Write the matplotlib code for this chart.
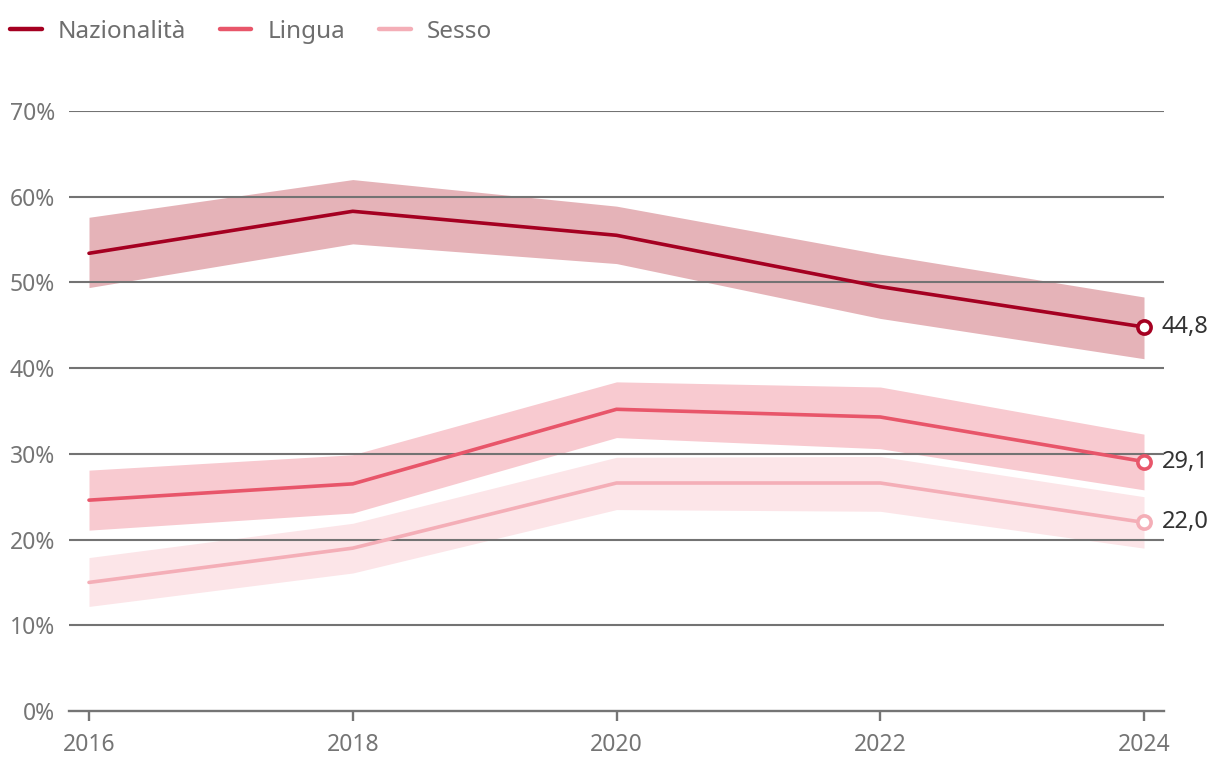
import numpy as np
import matplotlib.pyplot as plt

plt.rcParams['font.family'] = ['Noto Sans', 'DejaVu Sans']

## Data ##
years = [2016, 2018, 2020, 2022, 2024]

naz = [53.4, 58.3, 55.5, 49.5, 44.8]
naz_lo = [49.4, 54.5, 52.2, 45.8, 41.1]
naz_hi = [57.6, 62.0, 58.9, 53.3, 48.3]

lin = [24.6, 26.5, 35.2, 34.3, 29.1]
lin_lo = [21.1, 23.1, 31.9, 30.6, 25.8]
lin_hi = [28.1, 29.9, 38.4, 37.8, 32.3]

ses = [15.0, 19.0, 26.6, 26.6, 22.0]
ses_lo = [12.2, 16.1, 23.5, 23.3, 19.0]
ses_hi = [17.9, 21.9, 29.6, 29.7, 25.0]

names = ['Nazionalità', 'Lingua', 'Sesso']
end_labels = ['44,8', '29,1', '22,0']
yticks = [0, 10, 20, 30, 40, 50, 60, 70]

line_cols = ['#a50021', '#e8566a', '#f4aeb7']
band_cols = ['#e5b3b8', '#f8cad0', '#fce5e8']

fig = plt.figure(figsize=(12.2, 7.78), dpi=100)
ax = fig.add_axes([69/1220, 1-711/778, (1164-69)/1220, 600/778])

series = [(naz, naz_lo, naz_hi), (lin, lin_lo, lin_hi), (ses, ses_lo, ses_hi)]
for i, (v, lo, hi) in enumerate(series):
    ax.fill_between(years, lo, hi, color=band_cols[i], lw=0, zorder=1)
for i, (v, lo, hi) in enumerate(series):
    ax.plot(years, v, color=line_cols[i], lw=2.6, label=names[i], zorder=4,
            solid_capstyle='round')
    ax.plot(years[-1], v[-1], 'o', ms=9.5, mfc='white', mec=line_cols[i], mew=2.6,
            zorder=5)
    ax.text(years[-1] + 0.135, v[-1], end_labels[i], color='#333333', fontsize=17,
            va='center', ha='left', clip_on=False)

ax.set_xlim(2016 - 20/131.875, 2024 + 20/131.875)
ax.set_ylim(0, 70)
ax.set_yticks(yticks)
ax.set_yticklabels([f'{t}%' for t in yticks])
ax.set_xticks(years)
ax.set_xticklabels([str(y) for y in years])

for t in yticks[1:]:
    ax.axhline(t, color='#737373', lw=1.5, zorder=3)

for s in ['top', 'right', 'left']:
    ax.spines[s].set_visible(False)
ax.spines['bottom'].set_color('#757575')
ax.spines['bottom'].set_linewidth(1.7)
ax.spines['bottom'].set_zorder(6)

ax.tick_params(axis='y', length=0, pad=10, labelsize=16.5, labelcolor='#757575')
ax.tick_params(axis='x', length=7, width=1.7, color='#757575', pad=9,
               labelsize=16.5, labelcolor='#757575')

leg = fig.legend(loc='center left', bbox_to_anchor=(10/1220, 1-32/778), ncol=3,
                 frameon=False, fontsize=17.5, handlelength=1.3, handletextpad=0.65,
                 columnspacing=1.4, borderaxespad=0, borderpad=0)
for t in leg.get_texts():
    t.set_color('#6e6e6e')
for h in leg.get_lines():
    h.set_linewidth(3.2)

fig.savefig('out.png', dpi=100)
